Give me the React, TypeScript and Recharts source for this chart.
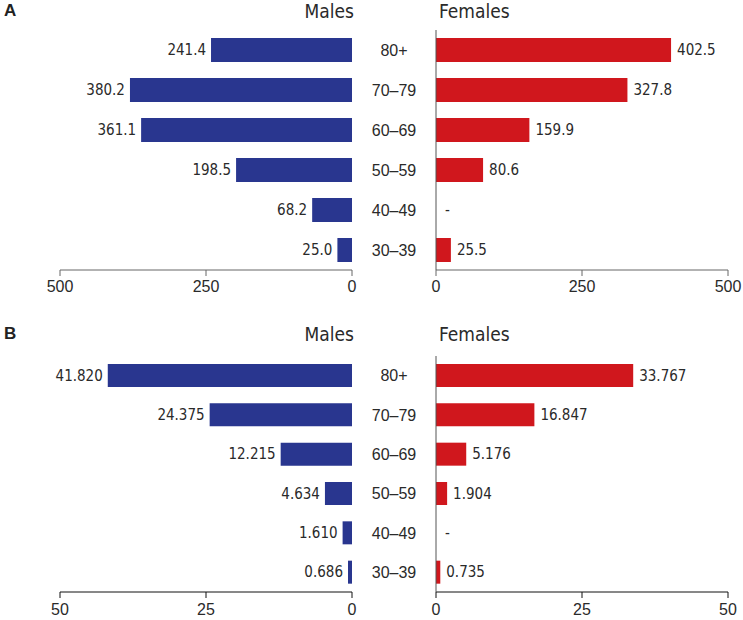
import React from 'react'
import { BarChart, Bar, XAxis, YAxis, LabelList } from 'recharts'

const ageGroups = ['80+', '70–79', '60–69', '50–59', '40–49', '30–39']

// panel A (0 = no cases, printed as "-")
const malesA = [241.4, 380.2, 361.1, 198.5, 68.2, 25.0]
const femalesA = [402.5, 327.8, 159.9, 80.6, 0, 25.5]
const ticksA = [0, 250, 500]

// panel B
const malesB = [41.82, 24.375, 12.215, 4.634, 1.61, 0.686]
const femalesB = [33.767, 16.847, 5.176, 1.904, 0, 0.735]
const ticksB = [0, 25, 50]

const BLUE = '#29368f'
const RED = '#d0171d'
const TXT = '#2a2a2a'
const TICK_FONT = '"Liberation Sans", Arial, sans-serif'
const LABEL_FONT = '"Liberation Sans Narrow", "DejaVu Sans Condensed", sans-serif'
const AGE_W = 84

type PanelProps = {
  letter: string
  top: number
  height: number
  plotTop: number
  plotH: number
  axisH: number
  tickGap: number
  males: number[]
  females: number[]
  ticks: number[]
  digits: number
  barSize: number
  axisColor: string
}

function Panel({ letter, top, height, plotTop, plotH, axisH, tickGap, males, females, ticks, digits, barSize, axisColor }: PanelProps) {
  const data = ageGroups.map((age, i) => ({ age, male: males[i], female: females[i] }))
  const max = ticks[ticks.length - 1]
  const bottom = height - plotTop - plotH - axisH
  const fmt = (v: any) => (v == null || Number(v) === 0 ? '-' : Number(v).toFixed(digits))

  const maleLabel = (p: any) => {
    const left = Math.min(p.x, p.x + p.width)
    return (
      <text x={left - 5} y={p.y + p.height / 2} dy="0.35em" textAnchor="end" fontSize={15} fill={TXT} fontFamily={LABEL_FONT}>
        {fmt(p.value)}
      </text>
    )
  }
  const femaleLabel = (p: any) => {
    const right = Math.max(p.x, p.x + (p.width || 0))
    return (
      <text x={right + 6} y={p.y + p.height / 2} dy="0.35em" textAnchor="start" fontSize={15} fill={TXT} fontFamily={LABEL_FONT}>
        {fmt(p.value)}
      </text>
    )
  }
  // age label in the gap; also prints "-" next to the axis where a female value is empty
  const ageTick = (p: any) => {
    const row = data.find(d => d.age === p.payload.value)
    return (
      <g>
        <text x={AGE_W / 2} y={p.y} dy="0.35em" textAnchor="middle" fontSize={16} fill={TXT} fontFamily={TICK_FONT}>
          {p.payload.value}
        </text>
        {row && !row.female ? (
          <text x={AGE_W + 9} y={p.y} dy="0.35em" textAnchor="start" fontSize={15} fill={TXT} fontFamily={LABEL_FONT}>-</text>
        ) : null}
      </g>
    )
  }
  const xTick = { fill: TXT, fontSize: 16, fontFamily: TICK_FONT }
  const headerStyle: React.CSSProperties = { position: 'absolute', top: 0, fontFamily: LABEL_FONT, fontSize: 19, color: TXT, lineHeight: '22px' }

  return (
    <div style={{ position: 'absolute', left: 0, top, width: 743, height }}>
      <div style={{ position: 'absolute', left: 4, top: 0, fontFamily: TICK_FONT, fontWeight: 'bold', fontSize: 17, color: '#222', lineHeight: '22px' }}>{letter}</div>
      <div style={{ ...headerStyle, right: 743 - 354 }}>Males</div>
      <div style={{ ...headerStyle, left: 439 }}>Females</div>

      <div style={{ position: 'absolute', left: 0, top: 0 }}>
        <BarChart layout="vertical" width={360} height={height} data={data} margin={{ top: plotTop, right: 8, bottom, left: 60 }}>
          <XAxis type="number" dataKey="male" domain={[0, max]} ticks={ticks} reversed height={axisH} tick={xTick} stroke={axisColor} tickSize={6} tickMargin={tickGap} />
          <YAxis type="category" dataKey="age" orientation="right" width={0} tick={false} tickLine={false} stroke="#555" />
          <Bar dataKey="male" fill={BLUE} barSize={barSize} isAnimationActive={false}>
            <LabelList dataKey="male" content={maleLabel} />
          </Bar>
        </BarChart>
      </div>

      <div style={{ position: 'absolute', left: 352, top: 0 }}>
        <BarChart layout="vertical" width={391} height={height} data={data} margin={{ top: plotTop, right: 15, bottom, left: 0 }}>
          <XAxis type="number" domain={[0, max]} ticks={ticks} height={axisH} tick={xTick} stroke={axisColor} tickSize={6} tickMargin={tickGap} />
          <YAxis type="category" dataKey="age" width={AGE_W} tick={ageTick} tickLine={false} stroke="#555" />
          <Bar dataKey="female" fill={RED} barSize={barSize} isAnimationActive={false}>
            <LabelList dataKey="female" content={femaleLabel} />
          </Bar>
        </BarChart>
      </div>
    </div>
  )
}

export default function App() {
  return (
    <div style={{ position: 'absolute', left: 0, top: 0, width: 743, height: 620, background: '#fff' }}>
      <Panel letter="A" top={0} height={300} plotTop={30} plotH={240} axisH={30} tickGap={5} males={malesA} females={femalesA} ticks={ticksA} digits={1} barSize={24} axisColor="#666" />
      <Panel letter="B" top={323} height={297} plotTop={33} plotH={236} axisH={28} tickGap={6} males={malesB} females={femalesB} ticks={ticksB} digits={3} barSize={23} axisColor="#111" />
    </div>
  )
}
